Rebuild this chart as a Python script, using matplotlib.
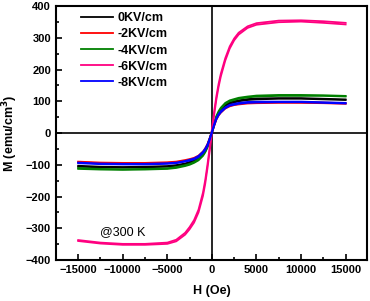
import matplotlib
matplotlib.use("Agg")
import matplotlib.pyplot as plt
from matplotlib.ticker import MultipleLocator

plt.rcParams['font.family'] = ['Liberation Sans', 'DejaVu Sans']

# field grid (Oe)
H = [-15000, -12500, -10000, -7500, -5000, -4000, -3000, -2500, -2000, -1500, -1000, -750, -500, -250, 0,
     250, 500, 750, 1000, 1500, 2000, 2500, 3000, 4000, 5000, 7500, 10000, 12500, 15000]

# magnetisation (emu/cm3), two branches of each loop
M0_a = [-106, -108, -109, -108, -106, -103, -98, -94, -89, -81, -68, -58, -43, -23, 0,
        24, 45, 59, 70, 84, 92, 96, 100, 104, 106, 108, 108, 106, 104]
M0_b = [-103, -106, -107, -106, -104, -101, -96, -91, -86, -77, -63, -52, -37, -17, 5,
        29, 50, 63, 74, 88, 96, 100, 103, 107, 109, 110, 110, 108, 106]
M2_a = [-92, -95, -96, -96, -94, -92, -88, -85, -81, -74, -62, -53, -40, -21, 0,
        22, 42, 55, 64, 77, 84, 88, 90, 93, 94, 95, 95, 94, 92]
M2_b = [-90, -93, -94, -94, -92, -90, -85, -82, -78, -71, -58, -48, -35, -16, 5,
        27, 46, 59, 67, 80, 87, 91, 93, 96, 97, 98, 97, 96, 94]
M4_a = [-113, -115, -116, -115, -113, -110, -104, -100, -94, -86, -72, -61, -46, -24, 0,
        26, 50, 65, 76, 92, 100, 104, 108, 112, 115, 117, 117, 117, 115]
M4_b = [-110, -113, -114, -113, -111, -107, -101, -97, -91, -82, -67, -56, -41, -19, 5,
        31, 54, 69, 80, 95, 103, 107, 111, 115, 118, 120, 120, 119, 117]
M6_a = [-340, -348, -352, -352, -349, -341, -320, -303, -282, -250, -198, -160, -112, -58, 0,
        56, 105, 145, 178, 228, 266, 292, 310, 331, 341, 349, 351, 347, 342]
M6_b = [-337, -345, -349, -349, -345, -336, -314, -296, -274, -241, -187, -148, -99, -45, 12,
        68, 116, 155, 187, 236, 273, 298, 316, 336, 346, 354, 355, 352, 347]
M8_a = [-95, -98, -99, -99, -97, -95, -90, -87, -83, -76, -63, -54, -41, -22, 0,
        23, 43, 56, 65, 78, 86, 89, 92, 95, 96, 97, 97, 95, 93]
M8_b = [-93, -96, -97, -97, -95, -93, -88, -84, -80, -72, -59, -49, -36, -17, 5,
        28, 47, 60, 69, 81, 89, 92, 95, 98, 99, 99, 99, 97, 95]

labels = ['0KV/cm', '-2KV/cm', '-4KV/cm', '-6KV/cm', '-8KV/cm']
colors = ['black', '#ff0000', '#008000', '#ff0080', '#0000ff']
loops = [(M0_a, M0_b), (M2_a, M2_b), (M4_a, M4_b), (M6_a, M6_b), (M8_a, M8_b)]

fig = plt.figure(figsize=(3.70, 3.01), dpi=100)
ax = fig.add_axes([0.151, 0.136, 0.841, 0.844])

ax.axhline(0, color='black', lw=1.2, zorder=1)
ax.axvline(0, color='black', lw=1.2, zorder=1)

for (ma, mb), c, lab in zip(loops, colors, labels):
    ax.plot(H, ma, color=c, lw=1.3, label=lab, zorder=2)
    ax.plot(H, mb, color=c, lw=1.3, zorder=2)

ax.set_xlim(-17500, 17400)
ax.set_ylim(-400, 400)
ax.xaxis.set_major_locator(MultipleLocator(5000))
ax.xaxis.set_minor_locator(MultipleLocator(2500))
ax.yaxis.set_major_locator(MultipleLocator(100))
ax.yaxis.set_minor_locator(MultipleLocator(50))
ax.tick_params(which='both', direction='in', width=1.2, labelsize=8)
ax.tick_params(which='major', length=4)
ax.tick_params(which='minor', length=2)
for lab in ax.get_xticklabels() + ax.get_yticklabels():
    lab.set_fontweight('bold')
for s in ax.spines.values():
    s.set_linewidth(1.5)

ax.set_xlabel('H (Oe)', fontsize=9, fontweight='bold', labelpad=7)
ax.set_ylabel('M (emu/cm$^\\mathbf{3}$)', fontsize=9, fontweight='bold')

ax.text(-12600, -312, '@300 K', fontsize=9, va='center')

leg = ax.legend(loc='upper left', bbox_to_anchor=(0.06, 1.0), frameon=False,
                prop={'weight': 'bold', 'size': 9}, handlelength=2.6,
                labelspacing=0.33, handletextpad=0.3, borderaxespad=0.1)

fig.savefig('out.png', dpi=100)
